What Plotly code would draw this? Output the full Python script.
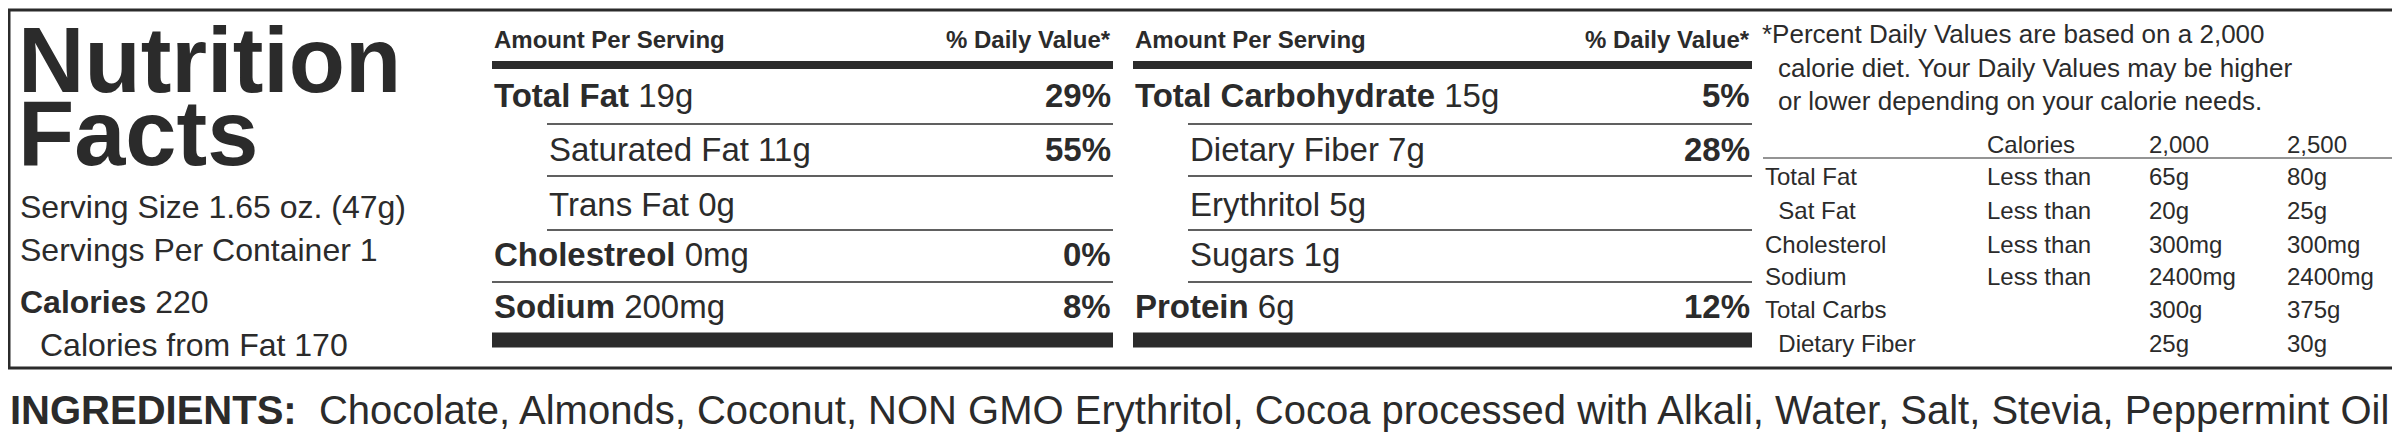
import plotly.graph_objects as go

# ---- data ----
col1_names = ["Total Fat", "Saturated Fat", "Trans Fat", "Cholestreol", "Sodium"]
col1_amounts = ["19g", "11g", "0g", "0mg", "200mg"]
col1_pct = ["29%", "55%", "", "0%", "8%"]
col1_bold = [True, False, False, True, True]

col2_names = ["Total Carbohydrate", "Dietary Fiber", "Erythritol", "Sugars", "Protein"]
col2_amounts = ["15g", "7g", "5g", "1g", "6g"]
col2_pct = ["5%", "28%", "", "", "12%"]
col2_bold = [True, False, False, False, True]

dv_labels = ["Total Fat", "  Sat Fat", "Cholesterol", "Sodium", "Total Carbs", "  Dietary Fiber"]
dv_qual = ["Less than", "Less than", "Less than", "Less than", "", ""]
dv_2000 = ["65g", "20g", "300mg", "2400mg", "300g", "25g"]
dv_2500 = ["80g", "25g", "300mg", "2400mg", "375g", "30g"]

serving_size = "1.65 oz. (47g)"
servings = "1"
calories = "220"
cal_fat = "170"
ingredients = "Chocolate, Almonds, Coconut, NON GMO Erythritol, Cocoa processed with Alkali, Water, Salt, Stevia, Peppermint Oil."

C = "#2b2b2b"
F = "Liberation Sans, Arial, sans-serif"

fig = go.Figure()
ann = []
shapes = []

def T(x, y, text, size, anchor="left", family=F):
    ann.append(dict(x=x, y=y, xref="x", yref="y", text=text, showarrow=False,
                    xanchor=anchor, yanchor="middle", font=dict(size=size, color=C, family=family)))

def L(x0, x1, y, w):
    shapes.append(dict(type="line", xref="x", yref="y", x0=x0, x1=x1, y0=y, y1=y,
                       line=dict(color=C, width=w)))

# outer box
shapes.append(dict(type="rect", xref="x", yref="y", x0=1, x1=2398, y0=2, y1=360,
                   line=dict(color=C, width=3)))

# left block
T(8, 52, "<b>Nutrition</b>", 92)
T(8, 125, "<b>Facts</b>", 92)
T(10, 199, "Serving Size " + serving_size, 32)
T(10, 242, "Servings Per Container " + servings, 32)
T(10, 294, "<b>Calories</b> " + calories, 32)
T(30, 337, "Calories from Fat " + cal_fat, 32)

row_y = [87, 141, 196, 246, 298]
line_y = [116, 168, 222, 274]

def column(x0, x1, names, amts, pcts, bold):
    T(x0, 31, "<b>Amount Per Serving</b>", 24)
    T(x1, 31, "<b>% Daily Value*</b>", 24, anchor="right")
    L(x0, x1, 57, 8)
    for i, (n, a, p, b) in enumerate(zip(names, amts, pcts, bold)):
        if b:
            T(x0, row_y[i], "<b>%s</b> %s" % (n, a), 33)
        else:
            T(x0 + 55, row_y[i], "%s %s" % (n, a), 33)
        if p:
            T(x1, row_y[i], "<b>%s</b>" % p, 33, anchor="right")
    for i, y in enumerate(line_y):
        indent = (not bold[i]) or (not bold[i + 1])
        L(x0 + (55 if indent else 0), x1, y, 1.5)
    L(x0, x1, 332, 15)

column(484, 1105, col1_names, col1_amounts, col1_pct, col1_bold)
column(1125, 1744, col2_names, col2_amounts, col2_pct, col2_bold)

# footnote
T(1752, 26, "*Percent Daily Values are based on a 2,000", 26)
T(1768, 60, "calorie diet. Your Daily Values may be higher", 26)
T(1768, 93, "or lower depending on your calorie needs.", 26)
T(1977, 136, "Calories", 24)
T(2139, 136, "2,000", 24)
T(2277, 136, "2,500", 24)
L(1755, 2390, 150, 1.2)
dv_y = [168, 202, 236, 268, 301, 335]
for i in range(len(dv_labels)):
    lab = dv_labels[i].replace("  ", "&nbsp;&nbsp;")
    T(1755, dv_y[i], lab, 24)
    if dv_qual[i]:
        T(1977, dv_y[i], dv_qual[i], 24)
    T(2139, dv_y[i], dv_2000[i], 24)
    T(2277, dv_y[i], dv_2500[i], 24)

T(0, 402, "<b>INGREDIENTS:</b>&nbsp; " + ingredients, 40)

fig.update_layout(width=2400, height=433, margin=dict(l=0, r=0, t=0, b=0),
                  paper_bgcolor="white", plot_bgcolor="white",
                  xaxis=dict(range=[0, 2400], visible=False, fixedrange=True),
                  yaxis=dict(range=[433, 0], visible=False, fixedrange=True),
                  annotations=ann, shapes=shapes, showlegend=False)
fig.write_html("out.html")
